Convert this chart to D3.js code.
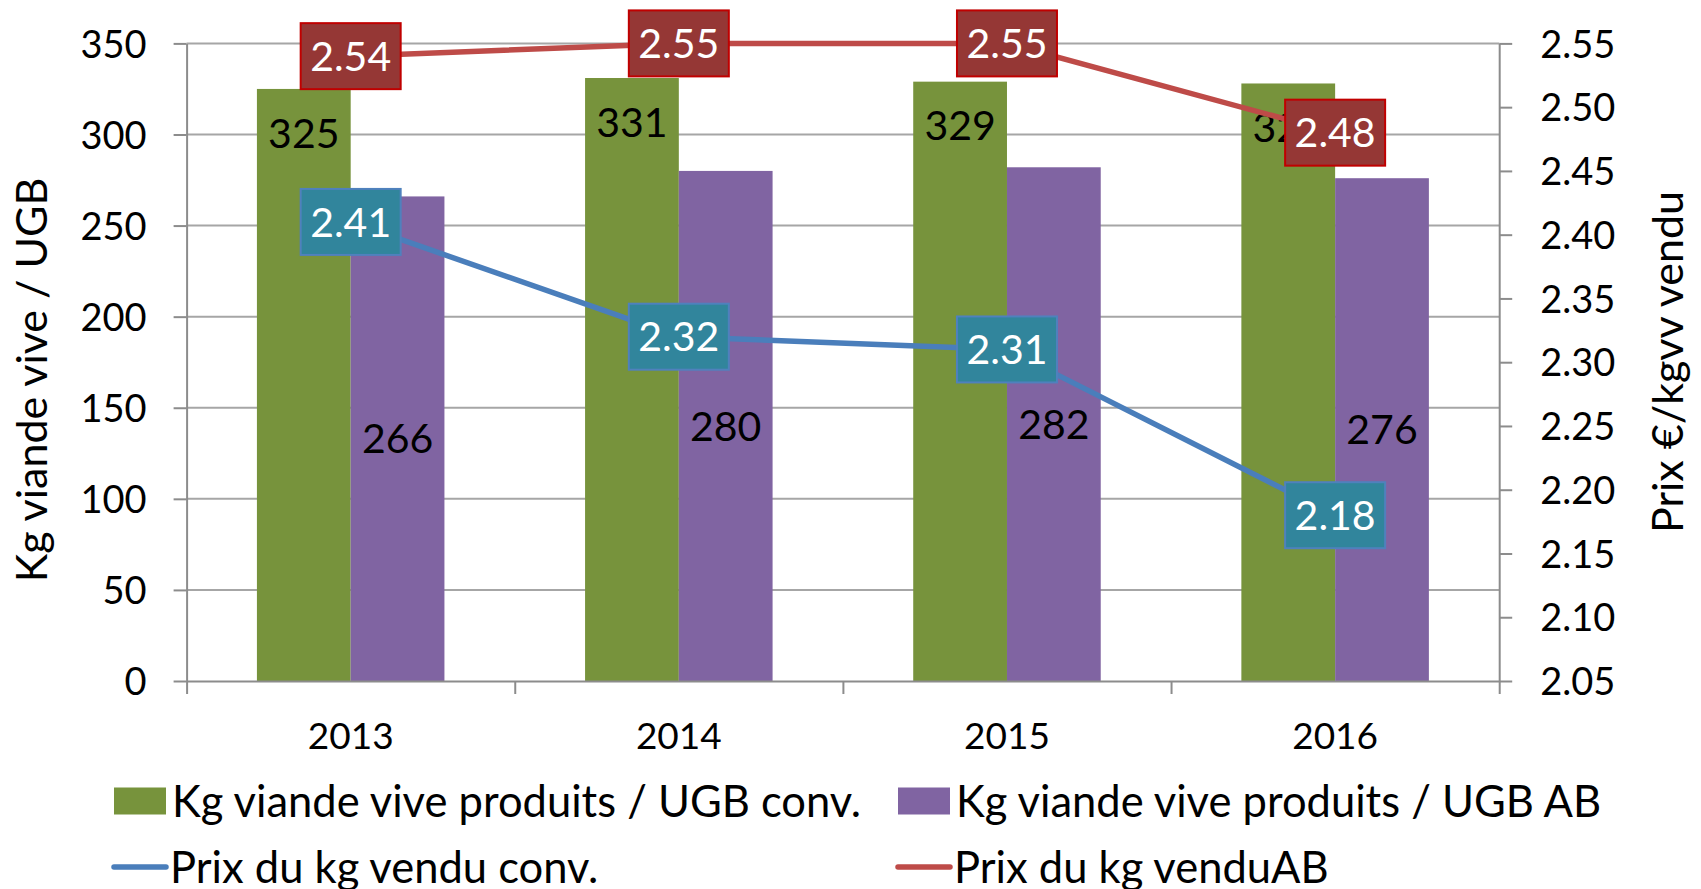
<!DOCTYPE html>
<html>
<head>
<meta charset="utf-8">
<script src="https://cdn.jsdelivr.net/npm/d3@7"></script>
<style>
  body { margin: 0; background: #fff; }
  #vis { width: 1701px; height: 889px; }
  text { font-family: Lato, "Open Sans", sans-serif; fill: #000; }
</style>
</head>
<body>
<div id="vis"></div>
<script>
// data
var years = ['2013', '2014', '2015', '2016'];
var kgConv = [325, 331, 329, 328];
var kgAB = [266, 280, 282, 276];
var prixConv = [2.41, 2.32, 2.31, 2.18];
var prixAB = [2.54, 2.55, 2.55, 2.48];
var leftTicks = [0, 50, 100, 150, 200, 250, 300, 350];
var rightTicks = [2.05, 2.10, 2.15, 2.20, 2.25, 2.30, 2.35, 2.40, 2.45, 2.50, 2.55];
var seriesNames = ['Kg viande vive produits / UGB conv.', 'Kg viande vive produits / UGB AB',
    'Prix du kg vendu conv.', 'Prix du kg venduAB'];

var width = 1701, height = 889;
var plot = { left: 186.6, right: 1499.2, top: 43.4, bottom: 681 };
var tickFs = 38, labelFs = 41, legendFs = 43.5;

var svg = d3.select('#vis')
    .append('svg')
    .attr('width', width)
    .attr('height', height);

var x = d3.scaleBand()
    .domain(years)
    .range([plot.left, plot.right])
    .padding(0);

var xSub = d3.scaleBand()
    .domain(['conv', 'ab'])
    .range([0, x.bandwidth()])
    .paddingInner(0)
    .paddingOuter(0.75);

// boundaries between categories, for the tick marks
var xEdge = d3.scaleLinear()
    .domain([0, years.length])
    .range([plot.left, plot.right]);

var yLeft = d3.scaleLinear()
    .domain([0, 350])
    .range([plot.bottom, plot.top]);

var yRight = d3.scaleLinear()
    .domain([2.05, 2.55])
    .range([plot.bottom, plot.top]);

var axisGrey = '#8c8c8c';

// gridlines
svg.append('g')
    .selectAll('line')
    .data(leftTicks.slice(1))
    .enter()
    .append('line')
    .attr('x1', plot.left)
    .attr('x2', plot.right)
    .attr('y1', function(d) { return yLeft(d); })
    .attr('y2', function(d) { return yLeft(d); })
    .attr('stroke', '#a6a6a6')
    .attr('stroke-width', 2);

// bars
var groups = svg.append('g')
    .selectAll('g')
    .data(years)
    .enter()
    .append('g')
    .attr('transform', function(d) { return 'translate(' + x(d) + ',0)'; });

groups.append('rect')
    .attr('x', xSub('conv'))
    .attr('width', xSub.bandwidth())
    .attr('y', function(d, i) { return yLeft(kgConv[i]); })
    .attr('height', function(d, i) { return plot.bottom - yLeft(kgConv[i]); })
    .attr('fill', '#77933c');

groups.append('rect')
    .attr('x', xSub('ab'))
    .attr('width', xSub.bandwidth())
    .attr('y', function(d, i) { return yLeft(kgAB[i]); })
    .attr('height', function(d, i) { return plot.bottom - yLeft(kgAB[i]); })
    .attr('fill', '#8064a2');

// bar labels
groups.append('text')
    .attr('x', xSub('conv') + xSub.bandwidth() / 2)
    .attr('y', function(d, i) { return yLeft(kgConv[i]) + 44; })
    .attr('dy', '0.36em')
    .attr('text-anchor', 'middle')
    .style('font-size', labelFs + 'px')
    .text(function(d, i) { return kgConv[i]; });

groups.append('text')
    .attr('x', xSub('ab') + xSub.bandwidth() / 2)
    .attr('y', function(d, i) { return (yLeft(kgAB[i]) + plot.bottom) / 2; })
    .attr('dy', '0.36em')
    .attr('text-anchor', 'middle')
    .style('font-size', labelFs + 'px')
    .text(function(d, i) { return kgAB[i]; });

// axes
var leftAxis = svg.append('g')
    .attr('transform', 'translate(' + plot.left + ',0)')
    .call(d3.axisLeft(yLeft).tickValues(leftTicks).tickSize(13).tickSizeOuter(0).tickPadding(27));

var rightAxis = svg.append('g')
    .attr('transform', 'translate(' + plot.right + ',0)')
    .call(d3.axisRight(yRight).tickValues(rightTicks).tickFormat(d3.format('.2f'))
        .tickSize(13).tickSizeOuter(0).tickPadding(28));

var bottomTicks = svg.append('g')
    .attr('transform', 'translate(0,' + plot.bottom + ')')
    .call(d3.axisBottom(xEdge).tickValues(d3.range(years.length + 1)).tickFormat('')
        .tickSize(13).tickSizeOuter(0));

var bottomAxis = svg.append('g')
    .attr('transform', 'translate(0,' + plot.bottom + ')')
    .call(d3.axisBottom(x).tickSize(0).tickPadding(42));

[leftAxis, rightAxis, bottomTicks, bottomAxis].forEach(function(g) {
    g.select('.domain').attr('stroke', axisGrey).attr('stroke-width', 2);
    g.selectAll('.tick line').attr('stroke', axisGrey).attr('stroke-width', 2);
    g.selectAll('.tick text')
        .style('font-family', 'Lato, "Open Sans", sans-serif')
        .style('font-size', tickFs + 'px')
        .attr('fill', '#000');
});
bottomAxis.select('.domain').remove();
bottomAxis.selectAll('.tick text').style('font-size', '37px').attr('dy', '0.36em').attr('y', 55);
leftAxis.selectAll('.tick text').attr('dy', '0.36em');
rightAxis.selectAll('.tick text').attr('dy', '0.36em');

// axis titles
svg.append('text')
    .attr('transform', 'translate(32,380) rotate(-90)')
    .attr('text-anchor', 'middle')
    .attr('dy', '0.36em')
    .style('font-size', '43px')
    .text('Kg viande vive / UGB');

svg.append('text')
    .attr('transform', 'translate(1668,362) rotate(-90)')
    .attr('text-anchor', 'middle')
    .attr('dy', '0.36em')
    .style('font-size', '43px')
    .text('Prix €/kgvv vendu');

// price lines
var cx = function(i) { return x(years[i]) + x.bandwidth() / 2; };

var priceLine = d3.line()
    .x(function(d, i) { return cx(i); })
    .y(function(d) { return yRight(d); });

svg.append('path')
    .datum(prixConv)
    .attr('d', priceLine)
    .attr('fill', 'none')
    .attr('stroke', '#4a7ebb')
    .attr('stroke-width', 5.5);

svg.append('path')
    .datum(prixAB)
    .attr('d', priceLine)
    .attr('fill', 'none')
    .attr('stroke', '#be4b48')
    .attr('stroke-width', 5.5);

// price labels (boxes)
function priceLabels(values, fill, border) {
    var g = svg.append('g')
        .selectAll('g')
        .data(values)
        .enter()
        .append('g')
        .attr('transform', function(d, i) { return 'translate(' + cx(i) + ',' + yRight(d) + ')'; });
    g.append('rect')
        .attr('x', -50)
        .attr('y', -33)
        .attr('width', 100)
        .attr('height', 66)
        .attr('fill', fill)
        .attr('stroke', border)
        .attr('stroke-width', 2);
    g.append('text')
        .attr('text-anchor', 'middle')
        .attr('dy', '0.36em')
        .style('font-size', labelFs + 'px')
        .style('fill', '#fff')
        .text(function(d) { return d3.format('.2f')(d); });
}
priceLabels(prixConv, '#31859c', '#4f81bd');
priceLabels(prixAB, '#953735', '#c00000');

// legend
var legend = svg.append('g');
var legendPos = [
    { x: 114, y: 801, type: 'rect', color: '#77933c' },
    { x: 898, y: 801, type: 'rect', color: '#8064a2' },
    { x: 112, y: 867, type: 'line', color: '#4a7ebb' },
    { x: 896, y: 867, type: 'line', color: '#be4b48' }
];

var items = legend.selectAll('g')
    .data(seriesNames)
    .enter()
    .append('g')
    .attr('transform', function(d, i) { return 'translate(' + legendPos[i].x + ',' + legendPos[i].y + ')'; });

items.each(function(d, i) {
    var it = d3.select(this);
    if (legendPos[i].type === 'rect') {
        it.append('rect')
            .attr('x', 0).attr('y', -13.5)
            .attr('width', 52).attr('height', 27)
            .attr('fill', legendPos[i].color);
    } else {
        it.append('line')
            .attr('x1', 2).attr('x2', 54)
            .attr('stroke', legendPos[i].color)
            .attr('stroke-width', 5.5)
            .attr('stroke-linecap', 'round');
    }
    it.append('text')
        .attr('x', 58)
        .attr('dy', '0.36em')
        .style('font-size', legendFs + 'px')
        .text(d);
});
</script>
</body>
</html>
